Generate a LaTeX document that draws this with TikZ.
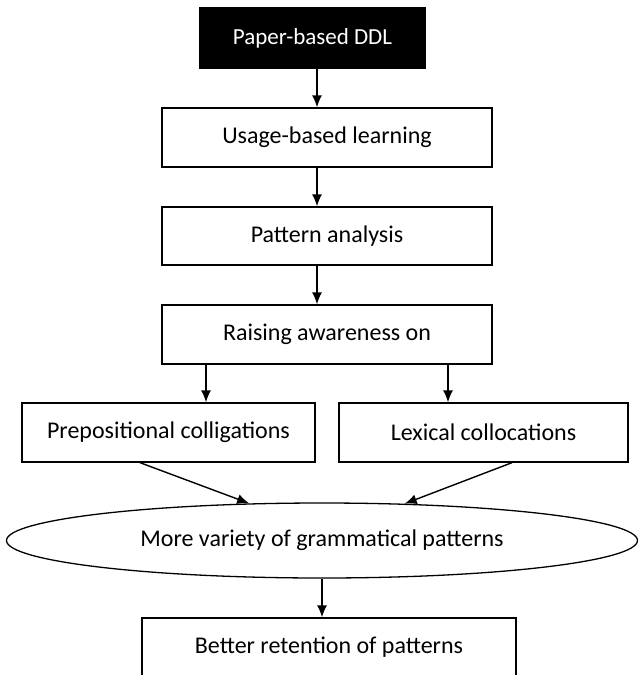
\documentclass[tikz,border=0pt]{standalone}
\usepackage{fontspec}
\setmainfont{Carlito}
\usetikzlibrary{arrows.meta, shapes.geometric}

\begin{document}
\begin{tikzpicture}[x=1pt, y=-1pt,
    box/.style={draw, line width=1.3pt, minimum height=59pt, inner sep=2pt,
                font=\fontsize{24}{28}\selectfont},
    arr/.style={-{Latex[length=12pt, width=10pt]}, line width=1.4pt}]
        \useasboundingbox (0,0) rectangle (638,675);
        \clip (0,0) rectangle (638,675);

        \node[box, fill=black, text=white, minimum width=225pt, minimum height=60pt,
              font=\fontsize{23}{27}\selectfont] (ddl) at (312.5,38) {Paper-based DDL};
        \node[box, minimum width=330pt] (usage) at (327,137.5) {Usage-based learning};
        \node[box, minimum width=330pt, minimum height=58pt] (pattern) at (327,236) {Pattern analysis};
        \node[box, minimum width=330pt] (raising) at (327,334.5) {Raising awareness on};
        \node[box, minimum width=293pt] (prep) at (168.5,432.5) {Prepositional colligations};
        \node[box, minimum width=289pt] (lex) at (483.5,432.5) {Lexical collocations};
        \node[box, ellipse, minimum width=631pt, minimum height=75pt] (more) at (322,540.5) {More variety of grammatical patterns};
        \node[box, minimum width=374pt] (better) at (329,647.5) {Better retention of patterns};

        \draw[arr] ([xshift=4.5pt]ddl.south) -- ([xshift=-10pt]usage.north);
        \draw[arr] ([xshift=-10pt]usage.south) -- ([xshift=-10pt]pattern.north);
        \draw[arr] ([xshift=-10pt]pattern.south) -- ([xshift=-10pt]raising.north);
        \draw[arr] ([xshift=-121pt]raising.south) -- ([xshift=37.5pt]prep.north);
        \draw[arr] ([xshift=121pt]raising.south) -- ([xshift=-35.5pt]lex.north);
        \draw[arr] ([xshift=-28.5pt]prep.south) -- (more.153);
        \draw[arr] ([xshift=28.5pt]lex.south) -- (more.24);
        \draw[arr] (more.south) -- (more.south |- better.north);
    \end{tikzpicture}
\end{document}
